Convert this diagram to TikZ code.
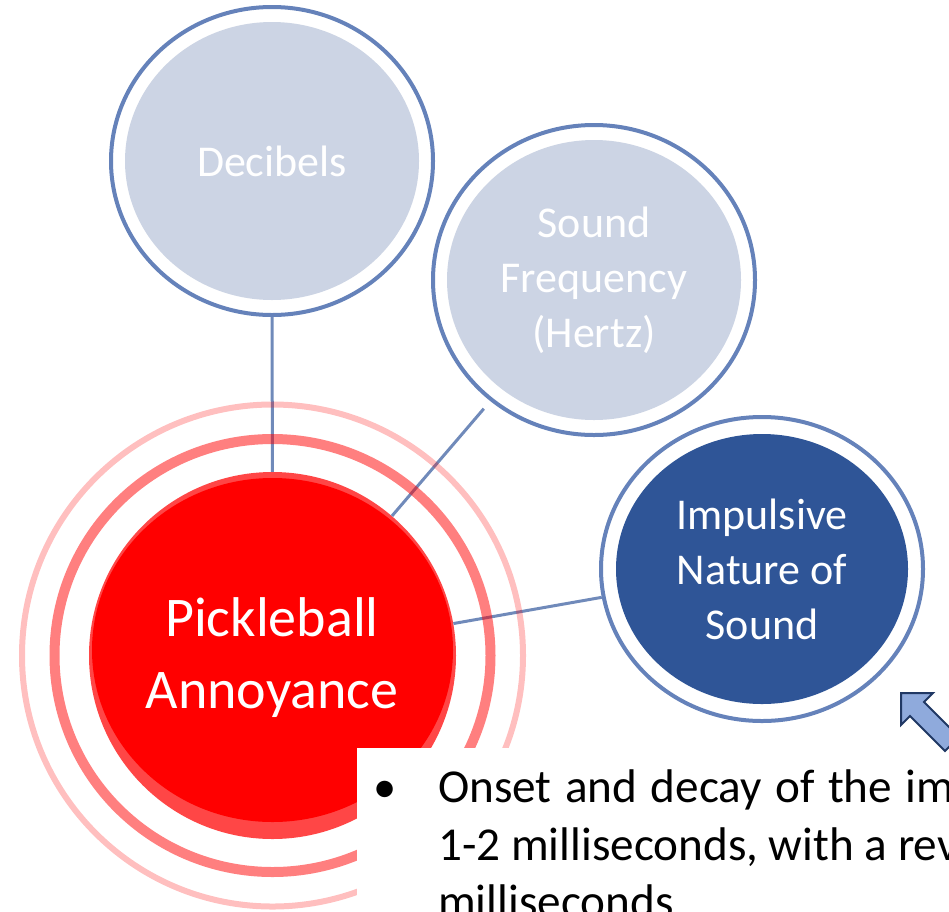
\documentclass[tikz,border=0pt]{standalone}
\usepackage{fontspec}
\setmainfont{Carlito}
\usetikzlibrary{shapes.geometric, positioning}
\definecolor{bubblefill}{RGB}{204,212,228}
\definecolor{bubbleline}{RGB}{101,130,186}
\definecolor{darkbubble}{RGB}{47,85,151}
\definecolor{linkblue}{RGB}{112,138,186}
\definecolor{rimred}{RGB}{255,70,70}
\definecolor{arrowfill}{RGB}{143,170,220}
\definecolor{arrowline}{RGB}{32,56,100}

\begin{document}
\begin{tikzpicture}[x=1pt, y=-1pt]
\tikzstyle{ring}=[ellipse, draw=bubbleline, line width=4pt, fill=white, minimum width=322pt, minimum height=308pt, inner sep=0pt]
\tikzstyle{core}=[ellipse, fill=bubblefill, minimum width=294pt, minimum height=278pt, inner sep=0pt, text=white, align=center, font=\fontsize{44}{55}\selectfont]
\tikzstyle{link}=[draw=linkblue, line width=3pt]
\tikzstyle{bullettext}=[anchor=base west, inner sep=0pt, font=\fontsize{47.2}{57}\selectfont]

\useasboundingbox (0,0) rectangle (949,911);
\clip (0,0) rectangle (949,911);

%% outer bubbles
\node (dec) at (272,161) [ring] {};
\node (snd) at (594,280) [ring, minimum height=310pt] {};
\node (imp) at (762,569) [ring, minimum height=304pt] {};

\node (decc) at (dec) [core] {Decibels};
\node (sndc) at (snd) [core, minimum height=280pt] {Sound\\Frequency\\(Hertz)};
\node (impc) at (imp) [core, fill=darkbubble, minimum width=292pt, minimum height=270pt] {Impulsive\\Nature of\\Sound};

%% centre
\node (pick) at (272.5,655.5) [circle, fill=rimred, minimum size=367pt, inner sep=0pt] {};
\node (pickc) at (272.5,650) [ellipse, fill=red, minimum width=361pt, minimum height=344pt, inner sep=0pt] {};
\node (pickt) at (272,658) [text=white, align=center, font=\fontsize{56}{72}\selectfont] {Pickleball\\Annoyance};

\draw [link] (dec) -- (pick);
\draw [link, shorten <=10pt] (snd) -- (pick);
\draw [link] (imp) -- (pick);

\draw [red, opacity=0.5, line width=10pt] (pick) ellipse (218pt and 216.5pt);
\draw [red, opacity=0.25, line width=6pt] (pick) ellipse (250.5pt and 251pt);

%% note
\node (note) at (357,748) [fill=white, anchor=north west, minimum width=620pt, minimum height=180pt] {};
\node (bul) at (385,802) [anchor=base, inner sep=0pt, font=\fontsize{46.5}{57}\selectfont] {\textbullet};
\node (ln1) at (438,802) [bullettext] {\spaceskip=13.5pt Onset and decay of the im};
\node (ln2) at (438,860) [bullettext] {1-2 milliseconds, with a rev};
\node (ln3) at (438,917) [bullettext] {milliseconds};

\draw [fill=arrowfill, draw=arrowline, line width=2pt, line join=miter] (901,693) -- (933,693) -- (924,702) -- (959,737) -- (945,751) -- (910,716) -- (901,725) -- cycle;
\end{tikzpicture}
\end{document}
